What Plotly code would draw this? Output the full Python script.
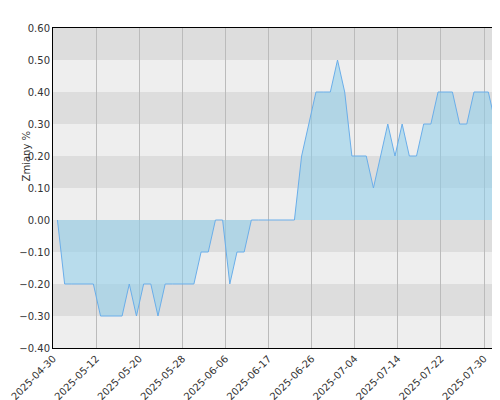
import plotly.graph_objects as go

tick_labels = ["2025-04-30", "2025-05-12", "2025-05-20", "2025-05-28", "2025-06-06",
               "2025-06-17", "2025-06-26", "2025-07-04", "2025-07-14", "2025-07-22", "2025-07-30"]
changes = [0, -0.2, -0.2, -0.2, -0.2, -0.2, -0.3, -0.3, -0.3, -0.3, -0.2, -0.3, -0.2, -0.2,
           -0.3, -0.2, -0.2, -0.2, -0.2, -0.2, -0.1, -0.1, 0, 0, -0.2, -0.1, -0.1, 0,
           0, 0, 0, 0, 0, 0, 0.2, 0.3, 0.4, 0.4, 0.4, 0.5, 0.4, 0.2, 0.2, 0.2, 0.1,
           0.2, 0.3, 0.2, 0.3, 0.2, 0.2, 0.3, 0.3, 0.4, 0.4, 0.4, 0.3, 0.3, 0.4, 0.4,
           0.4, 0.3, 0.5]
idx = list(range(len(changes)))
tick_pos = [-0.6 + 6 * k for k in range(len(tick_labels))]

fig = go.Figure()
fig.add_trace(go.Scatter(x=idx, y=changes, mode="lines", fill="tozeroy",
                         line=dict(color="#6aaeea", width=1),
                         fillcolor="rgba(140,205,235,0.55)"))

# alternating horizontal bands
shapes = []
for i in range(10):
    y0 = 0.6 - 0.1 * (i + 1)
    shapes.append(dict(type="rect", xref="paper", yref="y", x0=0, x1=1, y0=y0, y1=y0 + 0.1,
                       fillcolor="#dddddd" if i % 2 == 0 else "#eeeeee",
                       line_width=0, layer="below"))
fig.update_layout(
    shapes=shapes,
    width=500, height=400,
    margin=dict(l=45, r=1, t=20, b=60),
    paper_bgcolor="white", plot_bgcolor="#eeeeee",
    showlegend=False,
    font=dict(family="DejaVu Sans", size=10, color="#333333"),
    xaxis=dict(range=[-0.62, 62.6], tickvals=tick_pos, ticktext=tick_labels,
               tickangle=-45, showgrid=True, gridcolor="#bbbbbb", gridwidth=1,
               showline=True, linecolor="black", mirror=True, zeroline=False,
               automargin=False, ticklen=0),
    yaxis=dict(range=[-0.4, 0.6], dtick=0.1, tickformat=".2f", showgrid=False,
               showline=True, linecolor="black", mirror=True, zeroline=False,
               automargin=False, ticklen=0),
    annotations=[dict(text="Zmiany %", textangle=-90, xref="paper", yref="paper",
                      x=-0.075, y=0.6, showarrow=False, font=dict(size=10))],
)
fig.write_html("out.html")
